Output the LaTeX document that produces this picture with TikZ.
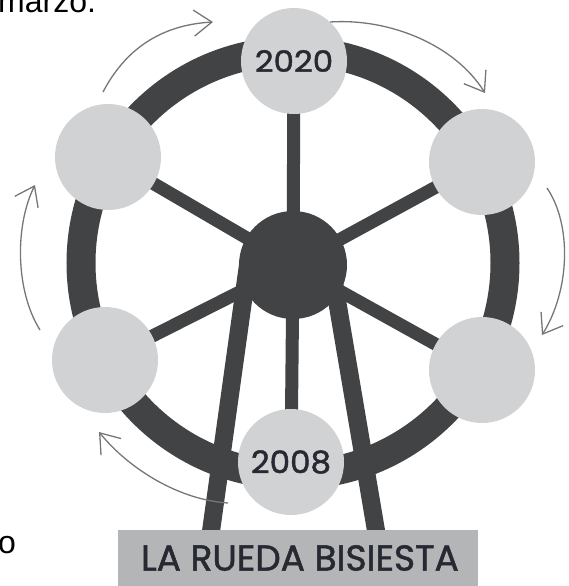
\documentclass[tikz,border=0pt]{standalone}
\usepackage{fontspec}
\setmainfont{Liberation Sans}
\newfontfamily\handfont[FakeBold=1.4]{Poppins}
\usetikzlibrary{arrows.meta,backgrounds}
\definecolor{wheeldark}{HTML}{424345}
\definecolor{seatgray}{HTML}{D1D2D3}
\definecolor{signgray}{HTML}{B3B5B7}
\definecolor{inkdark}{HTML}{262932}
\definecolor{arrowgray}{HTML}{767676}
\begin{document}
\begin{tikzpicture}[x=1pt,y=-1pt,
  rim/.style={draw=wheeldark,line width=29pt},
  spoke/.style={draw=wheeldark,line width=13pt},
  leg/.style={draw=wheeldark,line width=18pt},
  seat/.style={circle,fill=seatgray,minimum size=106pt,inner sep=0pt},
  hubnode/.style={circle,fill=wheeldark,minimum size=108pt,inner sep=0pt},
  turn/.style={draw=arrowgray,line width=1.3pt,-{Straight Barb[length=18pt,width=26pt,line width=1.3pt]}},
  year/.style={font=\handfont\fontsize{31}{31}\selectfont,text=inkdark},
  prose/.style={font=\fontsize{32}{32}\selectfont,text=black,inner sep=0pt},
]
\useasboundingbox (0,0) rectangle (568,586);

% hub and seats
\node[hubnode] (hub) at (293,265) {};
\node[seat,year] (s1) at (294,61) {\scalebox{1.05}[0.95]{2020}};
\node[seat] (s2) at (482,162) {};
\node[seat] (s3) at (482,370) {};
\node[seat,year] (s4) at (291,462) {\scalebox{1.05}[1]{2008}};
\node[seat] (s5) at (105,360) {};
\node[seat] (s6) at (108,157) {};

\coordinate (c) at (293,263);
\coordinate (legLtop) at (248,265);
\coordinate (legLfoot) at (207,560);
\coordinate (legRtop) at (331,265);
\coordinate (legRfoot) at (381,560);

\begin{pgfonlayer}{background}
  \draw[rim] (c) circle[radius=212pt];
  \foreach \s in {s1,s2,s3,s4,s5,s6}
    \draw[spoke] (hub.center) -- (\s.center);
  \draw[leg] (legLtop) -- (legLfoot);
  \draw[leg] (legRtop) -- (legRfoot);
\end{pgfonlayer}

% sign
\node[fill=signgray,minimum width=360pt,minimum height=62pt,inner sep=0pt,anchor=north west] (sign) at (118,530) {};
\node[font=\handfont\fontsize{36}{36}\selectfont,text=inkdark,inner sep=0pt] (signtext) at (300,558) {\scalebox{1.0}[1]{LA RUEDA BISIESTA}};

% rotation arrows
\coordinate (a1s) at (103,92);  \coordinate (a1e) at (213,22);
\coordinate (a2s) at (330,22);  \coordinate (a2e) at (485,93);
\coordinate (a3s) at (547,188); \coordinate (a3e) at (542,335);
\coordinate (a4s) at (228,503); \coordinate (a4e) at (99,432);
\coordinate (a5s) at (40,330);  \coordinate (a5e) at (35,185);
\draw[turn] (a1s) .. controls (125,50) and (160,25) .. (a1e);
\draw[turn] (a2s) .. controls (390,18) and (455,45) .. (a2e);
\draw[turn] (a3s) .. controls (572,225) and (570,290) .. (a3e);
\draw[turn] (a4s) .. controls (180,500) and (130,470) .. (a4e);
\draw[turn] (a5s) .. controls (15,290) and (15,225) .. (a5e);

% surrounding text fragments
\node[prose,anchor=base west] (marzo) at (-2,13) {marzo.};
\node[prose,anchor=base west] (frag) at (-2,553) {o};
\end{tikzpicture}
\end{document}
